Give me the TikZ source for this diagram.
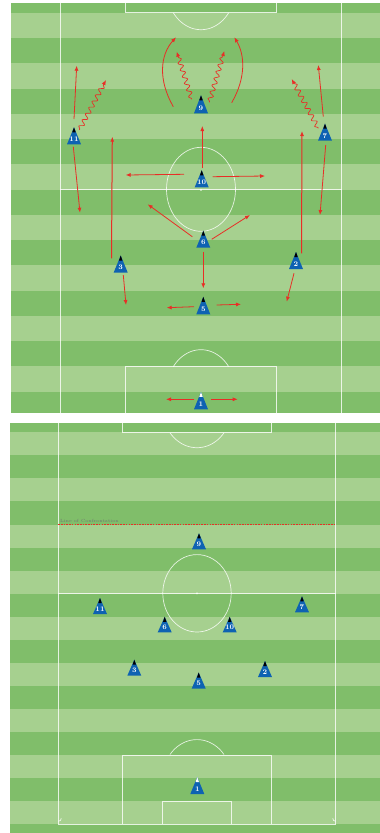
\documentclass[tikz,border=0pt]{standalone}
\usetikzlibrary{arrows.meta,decorations.pathmorphing}
\definecolor{dkg}{RGB}{128,190,106}
\definecolor{ltg}{RGB}{166,208,143}
\definecolor{pblue}{RGB}{14,98,178}
\definecolor{ared}{RGB}{232,46,38}
\newcommand\plyr[6]{% name, x, base y, number, height, tip colour
  \fill[pblue] ({#2-7},#3) -- (#2,{#3-#5}) -- ({#2+7},#3) -- cycle;
  \fill[#6] ({#2-1.7},{#3-#5+5}) -- (#2,{#3-#5}) -- ({#2+1.7},{#3-#5+5}) -- cycle;
  \node[num] (#1) at (#2,{#3-5}) {#4};}
\begin{document}
\begin{tikzpicture}[x=1pt,y=-1pt,
  num/.style={text=white,font=\bfseries\fontsize{7}{7}\selectfont,inner sep=0pt},
  pline/.style={draw=white,draw opacity=0.8,line width=0.7pt},
  mv/.style={draw=ared,line width=0.8pt,-{Latex[length=5pt,width=4pt]}},
  mvthick/.style={draw=ared,line width=1pt,-{Latex[length=5pt,width=4pt]}},
  wv/.style={draw=ared,line width=0.7pt,-{Latex[length=5pt,width=4pt]},
    decorate,decoration={snake,amplitude=2.3pt,segment length=7pt,post length=5pt,pre length=1pt}}]
\useasboundingbox (0,0) rectangle (380,833);
\fill[white] (0,0) rectangle (380,833);
% ===== top panel =====
\fill[dkg] (11,3) rectangle (380,412.7);
\foreach \i in {0,2,...,14} {
  \fill[ltg] (11,{12.7+25.27*\i}) rectangle (380,{12.7+25.27*(\i+1)});
}
\draw[pline] (60,3) -- (60,412.7);
\draw[pline] (341.7,3) -- (341.7,412.7);
\draw[pline] (60,189.3) -- (341.7,189.3);
\draw[pline] (201,189.3) ellipse [x radius=34.5, y radius=42];
\fill[white] (201,189.8) circle (1);
\draw[pline] (125,3) -- (125,12.7) -- (276.7,12.7) -- (276.7,3);
\draw[pline] plot[domain=143.4:36.6,samples=30] ({201+34.5*cos(\x)},{-12.3+42*sin(\x)});
\draw[pline] (125,412.7) -- (125,366.7) -- (276.7,366.7) -- (276.7,412.7);
\draw[pline] plot[domain=143.4:36.6,samples=30] ({201+34.5*cos(\x)},{391.7-42*sin(\x)});
% arrows top
\draw[mv] (173.3,106.7) .. controls (158,80) and (160,55) .. (176,37.3);
\draw[mv] (231.7,102.7) .. controls (246,78) and (245,55) .. (234.3,37.3);
\draw[wv] (191.7,99.3) -- (176.7,51.7);
\draw[wv] (209.3,102.3) -- (224.3,51);
\draw[mv] (74,119) -- (76.7,65.7);
\draw[wv] (79.3,130) -- (106,80);
\draw[mv] (73.3,146.7) -- (80,212.7);
\draw[mv] (323.3,116.7) -- (318.3,65);
\draw[wv] (318.3,128.3) -- (291.7,79);
\draw[mv] (325.7,145) -- (320,215);
\draw[mv] (202.3,168.3) -- (202.3,126);
\draw[mv] (184,174.3) -- (125.7,175);
\draw[mv] (212.7,176.7) -- (265,176);
\draw[mv] (192.3,236.7) -- (147.7,204.3);
\draw[mv] (211.7,239.3) -- (250,215);
\draw[mv] (203.3,251.7) -- (203.3,288.3);
\draw[mvthick] (111.5,258.3) -- (112.3,136.7);
\draw[mv] (123.3,275) -- (126,305);
\draw[mvthick] (301.5,253.3) -- (302,131);
\draw[mv] (294,273.3) -- (286.7,301.7);
\draw[mv] (194,306.7) -- (166.7,307.7);
\draw[mv] (216.7,305) -- (241,304.3);
\draw[mv] (194.3,399.3) -- (166,399.3);
\draw[mv] (210.7,399.3) -- (237.7,399.3);
% players top
\plyr{t9}{201}{113.3}{9}{18}{black}
\plyr{t11}{74}{144.3}{11}{17}{black}
\plyr{t7}{325}{140.7}{7}{17}{black}
\plyr{t10}{201.7}{187.3}{10}{17}{black}
\plyr{t6}{203.3}{247.7}{6}{17}{black}
\plyr{t3}{120.7}{272.5}{3}{17}{black}
\plyr{t2}{296}{269}{2}{17}{black}
\plyr{t5}{203.3}{314.3}{5}{17.5}{black}
\plyr{t1}{201}{409.3}{1}{17.5}{white}
% ===== bottom panel =====
\fill[dkg] (10,422.7) rectangle (380,833);
\foreach \i in {0,2,...,16} {
  \fill[ltg] (10,{432.3+23.06*\i}) rectangle (380,{432.3+23.06*(\i+1)});
}
\draw[pline] (58.3,422.7) -- (58.3,824.3) -- (335.7,824.3) -- (335.7,422.7);
\draw[pline] (58.3,593.3) -- (335.7,593.3);
\draw[pline] (197,593.3) ellipse [x radius=34.2, y radius=38.7];
\fill[white] (197,593.3) circle (1);
\draw[pline] (122.7,422.7) -- (122.7,432.3) -- (271.7,432.3) -- (271.7,422.7);
\draw[pline] plot[domain=142.1:37.9,samples=30] ({197+34.2*cos(\x)},{409+38.7*sin(\x)});
\draw[pline] (122.7,824.3) -- (122.7,755) -- (271.7,755) -- (271.7,824.3);
\draw[pline] plot[domain=142.1:37.9,samples=30] ({197+34.2*cos(\x)},{778.3-38.7*sin(\x)});
\draw[pline] (162.7,824.3) -- (162.7,801) -- (231,801) -- (231,824.3);
\draw[pline] (58.3,821.3) arc[start angle=90,end angle=0,radius=3];
\draw[pline] (335.7,821.3) arc[start angle=90,end angle=180,radius=3];
% line of confrontation
\draw[draw=ared,line width=0.7pt,dash pattern=on 1.6pt off 1.1pt] (58.3,524) coordinate (locL) -- (335.7,524) coordinate (locR);
\node[anchor=south west,inner sep=0.4pt,text=black!55,font=\fontsize{4.5}{4.5}\selectfont] (loc) at (59.5,523) {Line of Confrontation};
% players bottom
\plyr{b9}{199}{549.3}{9}{16}{black}
\plyr{b11}{100}{614}{11}{16}{black}
\plyr{b7}{302}{612.3}{7}{16}{black}
\plyr{b6}{164.7}{632.3}{6}{15.5}{black}
\plyr{b10}{229.7}{632.3}{10}{15.5}{black}
\plyr{b3}{134.3}{675.7}{3}{16}{black}
\plyr{b2}{265}{677}{2}{16}{black}
\plyr{b5}{198.7}{688.5}{5}{16}{black}
\plyr{b1}{197.3}{794}{1}{17}{white}
\end{tikzpicture}
\end{document}
